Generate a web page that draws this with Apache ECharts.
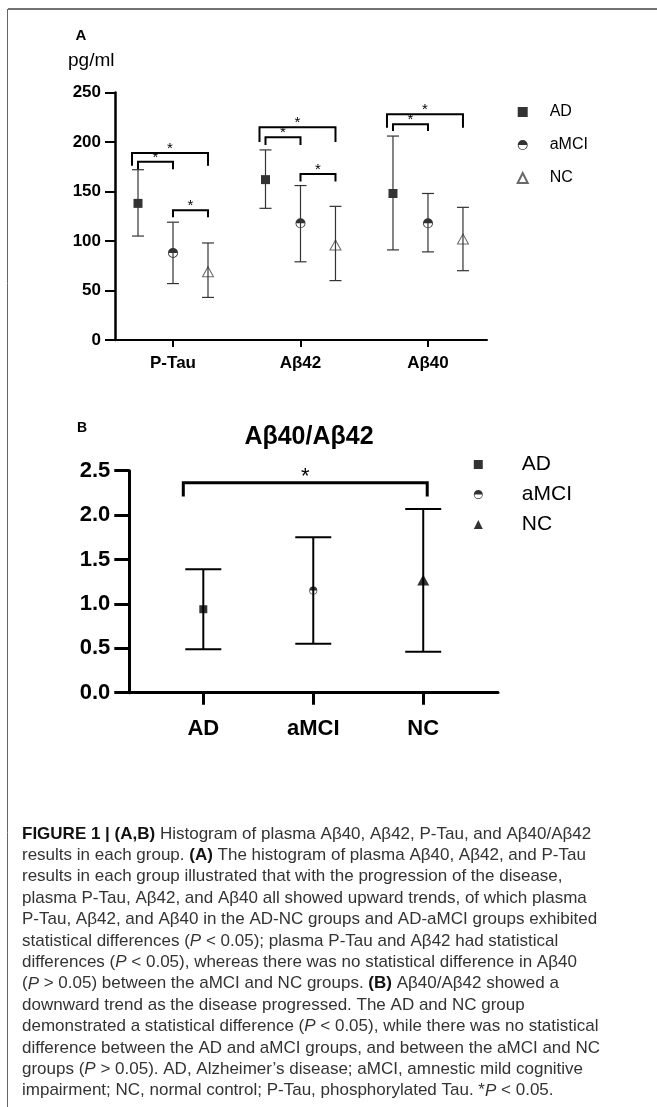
<!DOCTYPE html>
<html><head><meta charset="utf-8">
<script src="https://cdn.jsdelivr.net/npm/echarts@6/dist/echarts.min.js"></script>
<style>html,body{margin:0;padding:0;background:#fff}#c{width:657px;height:1107px}</style>
</head><body><div id="c"></div>
<script>
// ---------- DATA ----------
const groupNames = ['AD', 'aMCI', 'NC'];
// Panel A
const categoriesA = ['P-Tau', 'Aβ42', 'Aβ40'];
const adMeanA = [138, 162, 148];
const adLowA = [105, 133, 91];
const adHighA = [172, 192, 206];
const mciMeanA = [88, 118, 118];
const mciLowA = [57, 79, 89];
const mciHighA = [119, 156, 148];
const ncMeanA = [69, 96, 102];
const ncLowA = [43, 60, 70];
const ncHighA = [98, 135, 134];
const yMinA = 0, yMaxA = 250, yStepA = 50;
// significance brackets A: [category index, from group, to group, bar value, leg-end value]
const bracketsA = [
  [0, 0, 2, 189, 176], [0, 0, 1, 180, 172.5], [0, 1, 2, 131, 124],
  [1, 0, 2, 215, 200], [1, 0, 1, 204.7, 197], [1, 1, 2, 167.7, 160],
  [2, 0, 2, 228, 214.5], [2, 0, 1, 218, 211]
];
// Panel B
const titleB = 'Aβ40/Aβ42';
const categoriesB = ['AD', 'aMCI', 'NC'];
const meanB = [0.94, 1.15, 1.27];
const lowB = [0.49, 0.55, 0.46];
const highB = [1.39, 1.75, 2.07];
const yMinB = 0, yMaxB = 2.5, yStepB = 0.5;
const bracketsB = [[0, 2, 2.365, 2.21]];
const starText = '*';
// Caption
const captionLines = [
  '{b|FIGURE 1 | (A,B)} Histogram of plasma Aβ40, Aβ42, P-Tau, and Aβ40/Aβ42',
  'results in each group. {b|(A)} The histogram of plasma Aβ40, Aβ42, and P-Tau',
  'results in each group illustrated that with the progression of the disease,',
  'plasma P-Tau, Aβ42, and Aβ40 all showed upward trends, of which plasma',
  'P-Tau, Aβ42, and Aβ40 in the AD-NC groups and AD-aMCI groups exhibited',
  'statistical differences ({i|P} < 0.05); plasma P-Tau and Aβ42 had statistical',
  'differences ({i|P} < 0.05), whereas there was no statistical difference in Aβ40',
  '({i|P} > 0.05) between the aMCI and NC groups. {b|(B)} Aβ40/Aβ42 showed a',
  'downward trend as the disease progressed. The AD and NC group',
  'demonstrated a statistical difference ({i|P} < 0.05), while there was no statistical',
  'difference between the AD and aMCI groups, and between the aMCI and NC',
  'groups ({i|P} > 0.05). AD, Alzheimer’s disease; aMCI, amnestic mild cognitive',
  'impairment; NC, normal control; P-Tau, phosphorylated Tau. *{i|P} < 0.05.'
];

// ---------- STYLE ----------
const FF = '"Liberation Sans", Arial, Helvetica, sans-serif';
const halfCircle = 'path://M0,10 A10,10 0 0,1 20,10 Z M0,10 A10,10 0 0,0 20,10 L18.4,10 A8.4,8.4 0 0,1 1.6,10 Z';
const groupOffsetA = [-0.2745, 0, 0.2745];
const capFont = 17;

const chart = echarts.init(document.getElementById('c'), null, {renderer: 'canvas'});

function errorBarRender(capHalf, lw, color) {
  return function (params, api) {
    const x = api.value(0), lo = api.value(1), hi = api.value(2);
    const pLo = api.coord([x, lo]), pHi = api.coord([x, hi]);
    const st = {stroke: color, lineWidth: lw, fill: null};
    return {type: 'group', children: [
      {type: 'line', shape: {x1: pLo[0], y1: pLo[1], x2: pHi[0], y2: pHi[1]}, style: st},
      {type: 'line', shape: {x1: pLo[0] - capHalf, y1: pLo[1], x2: pLo[0] + capHalf, y2: pLo[1]}, style: st},
      {type: 'line', shape: {x1: pHi[0] - capHalf, y1: pHi[1], x2: pHi[0] + capHalf, y2: pHi[1]}, style: st}
    ]};
  };
}
function bracketRender(lw, starSize, starLift) {
  return function (params, api) {
    const x1 = api.value(0), x2 = api.value(1), top = api.value(2), bot = api.value(3);
    const nL = api.value(4), nR = api.value(5);
    const pA = api.coord([x1, top]), pB = api.coord([x2, bot]);
    const xa = pA[0] + nL, xb = pB[0] + nR, yt = pA[1], yb = pB[1];
    return {type: 'group', children: [
      {type: 'polyline', shape: {points: [[xa, yb], [xa, yt], [xb, yt], [xb, yb]]},
       style: {stroke: '#000', lineWidth: lw, fill: null, lineJoin: 'miter'}},
      {type: 'text', x: (xa + xb) / 2, y: yt - starLift,
       style: {text: starText, fontSize: starSize, fontFamily: FF, fill: '#000',
               align: 'center', verticalAlign: 'middle', textAlign: 'center', textVerticalAlign: 'middle'}}
    ]};
  };
}

const meansA = [adMeanA, mciMeanA, ncMeanA];
const lowsA = [adLowA, mciLowA, ncLowA];
const highsA = [adHighA, mciHighA, ncHighA];

const errA = [];
meansA.forEach((arr, g) => arr.forEach((v, i) => errA.push([i + 1 + groupOffsetA[g], lowsA[g][i], highsA[g][i]])));
const errB = meanB.map((v, i) => [i + 1, lowB[i], highB[i]]);

const brA = bracketsA.map(b => [b[0] + 1 + groupOffsetA[b[1]], b[0] + 1 + groupOffsetA[b[2]], b[3], b[4],
  (b[1] === 0 && b[2] === 2) ? -6 : 0, 0]);
const brB = bracketsB.map(b => [b[0] + 1, b[1] + 1, b[2], b[3], -20, 4]);

const symA = [{symbol: 'rect', size: 9, style: {color: '#000'}},
              {symbol: halfCircle, size: 10, style: {color: '#000'}},
              {symbol: 'triangle', size: [11, 10], style: {color: 'rgba(255,255,255,0)', borderColor: '#444', borderWidth: 1}}];
const symB = [{symbol: 'rect', size: 8, style: {color: '#000'}},
              {symbol: halfCircle, size: 8, style: {color: '#000'}},
              {symbol: 'triangle', size: [12, 11], style: {color: '#000'}}];

const series = [];
groupNames.forEach((name, g) => {
  series.push({
    name: name, type: 'scatter', xAxisIndex: 0, yAxisIndex: 0,
    symbol: symA[g].symbol, symbolSize: symA[g].size, itemStyle: symA[g].style, z: 3,
    data: meansA[g].map((v, i) => [i + 1 + groupOffsetA[g], v])
  });
});
series.push({type: 'custom', xAxisIndex: 0, yAxisIndex: 0, z: 4, renderItem: errorBarRender(6, 1.2, '#333'),
  encode: {x: 0, y: [1, 2]}, data: errA, silent: true});
series.push({type: 'custom', xAxisIndex: 0, yAxisIndex: 0, z: 4, renderItem: bracketRender(2, 15, 4),
  encode: {x: [0, 1], y: [2, 3]}, data: brA, silent: true});
groupNames.forEach((name, g) => {
  series.push({
    name: 'B-' + name, type: 'scatter', xAxisIndex: 1, yAxisIndex: 1,
    symbol: symB[g].symbol, symbolSize: symB[g].size, itemStyle: symB[g].style, z: 3,
    data: [[g + 1, meanB[g]]]
  });
});
series.push({type: 'custom', xAxisIndex: 1, yAxisIndex: 1, z: 4, renderItem: errorBarRender(18, 2, '#000'),
  encode: {x: 0, y: [1, 2]}, data: errB, silent: true});
series.push({type: 'custom', xAxisIndex: 1, yAxisIndex: 1, z: 4, renderItem: bracketRender(3, 22, 6),
  encode: {x: [0, 1], y: [2, 3]}, data: brB, silent: true});

const captionTop = 834, captionStep = 21.4;
const richCap = {
  b: {fontSize: capFont, fontFamily: FF, fontWeight: 'bold', fill: '#111', color: '#111'},
  i: {fontSize: capFont, fontFamily: FF, fontStyle: 'italic', fill: '#333', color: '#333'}
};
const graphic = [
  {type: 'line', shape: {x1: 8, y1: 9, x2: 657, y2: 9}, style: {stroke: '#444', lineWidth: 1.5}},
  {type: 'line', shape: {x1: 7.5, y1: 9, x2: 7.5, y2: 1107}, style: {stroke: '#666', lineWidth: 1}},
  {type: 'text', x: 81, y: 36, style: {text: 'A', fontSize: 15, fontWeight: 'bold', fontFamily: FF, fill: '#000',
    align: 'center', verticalAlign: 'middle', textAlign: 'center', textVerticalAlign: 'middle'}},
  {type: 'text', x: 68, y: 61, style: {text: 'pg/ml', fontSize: 19, fontFamily: FF, fill: '#000',
    align: 'left', verticalAlign: 'middle', textAlign: 'left', textVerticalAlign: 'middle'}},
  {type: 'text', x: 82, y: 428, style: {text: 'B', fontSize: 14, fontWeight: 'bold', fontFamily: FF, fill: '#000',
    align: 'center', verticalAlign: 'middle', textAlign: 'center', textVerticalAlign: 'middle'}},
  {type: 'text', x: 309, y: 437, style: {text: titleB, fontSize: 25, fontWeight: 'bold', fontFamily: FF, fill: '#000',
    align: 'center', verticalAlign: 'middle', textAlign: 'center', textVerticalAlign: 'middle'}}
];
captionLines.forEach((t, k) => {
  graphic.push({type: 'text', x: 22, y: captionTop + k * captionStep,
    style: {text: t, rich: richCap, fontSize: capFont, fontFamily: FF, fill: '#333',
      align: 'left', verticalAlign: 'middle', textAlign: 'left', textVerticalAlign: 'middle'}});
});

const option = {
  animation: false,
  backgroundColor: '#fff',
  grid: [
    {left: 115, top: 92.5, width: 372, height: 247.5},
    {left: 129.3, top: 470.7, width: 368.7, height: 222}
  ],
  xAxis: [
    {type: 'value', gridIndex: 0, min: 0.545, max: 3.463, splitLine: {show: false},
     axisLine: {show: true, onZero: false, lineStyle: {color: '#000', width: 2}},
     axisTick: {show: true, customValues: [1, 2, 3], length: 7, lineStyle: {color: '#000', width: 2}},
     axisLabel: {customValues: [1, 2, 3], formatter: v => categoriesA[Math.round(v) - 1], margin: 15,
       fontSize: 17, fontWeight: 'bold', fontFamily: FF, color: '#000'}},
    {type: 'value', gridIndex: 1, min: 0.327, max: 3.68, splitLine: {show: false},
     axisLine: {show: true, onZero: false, lineStyle: {color: '#000', width: 3}},
     axisTick: {show: true, customValues: [1, 2, 3], length: 12, lineStyle: {color: '#000', width: 3}},
     axisLabel: {customValues: [1, 2, 3], formatter: v => categoriesB[Math.round(v) - 1], margin: 25,
       fontSize: 22, fontWeight: 'bold', fontFamily: FF, color: '#000'}}
  ],
  yAxis: [
    {type: 'value', gridIndex: 0, min: yMinA, max: yMaxA, interval: yStepA, splitLine: {show: false},
     axisLine: {show: true, onZero: false, lineStyle: {color: '#000', width: 2.5}},
     axisTick: {show: true, length: 10, lineStyle: {color: '#000', width: 2}},
     axisLabel: {margin: 14, fontSize: 17, fontWeight: 'bold', fontFamily: FF, color: '#000'}},
    {type: 'value', gridIndex: 1, min: yMinB, max: yMaxB, interval: yStepB, splitLine: {show: false},
     axisLine: {show: true, onZero: false, lineStyle: {color: '#000', width: 3}},
     axisTick: {show: true, length: 15, lineStyle: {color: '#000', width: 3}},
     axisLabel: {margin: 19, fontSize: 22, fontWeight: 'bold', fontFamily: FF, color: '#000',
       formatter: v => v.toFixed(1)}}
  ],
  legend: [
    {data: groupNames, orient: 'vertical', left: 516.7, top: 104, padding: 0, itemWidth: 10, itemHeight: 10, itemGap: 17,
     selectedMode: false, textStyle: {fontSize: 16, fontFamily: FF, color: '#000', padding: [0, 0, 0, 17]}},
    {data: groupNames.map(n => 'B-' + n), orient: 'vertical', left: 473.8, top: 454, padding: 0, itemWidth: 9, itemHeight: 9,
     itemGap: 9, selectedMode: false, formatter: n => n.replace('B-', ''),
     textStyle: {fontSize: 21, fontFamily: FF, color: '#000', padding: [0, 0, 0, 34]}}
  ],
  graphic: graphic,
  series: series
};
chart.setOption(option);
</script></body></html>
